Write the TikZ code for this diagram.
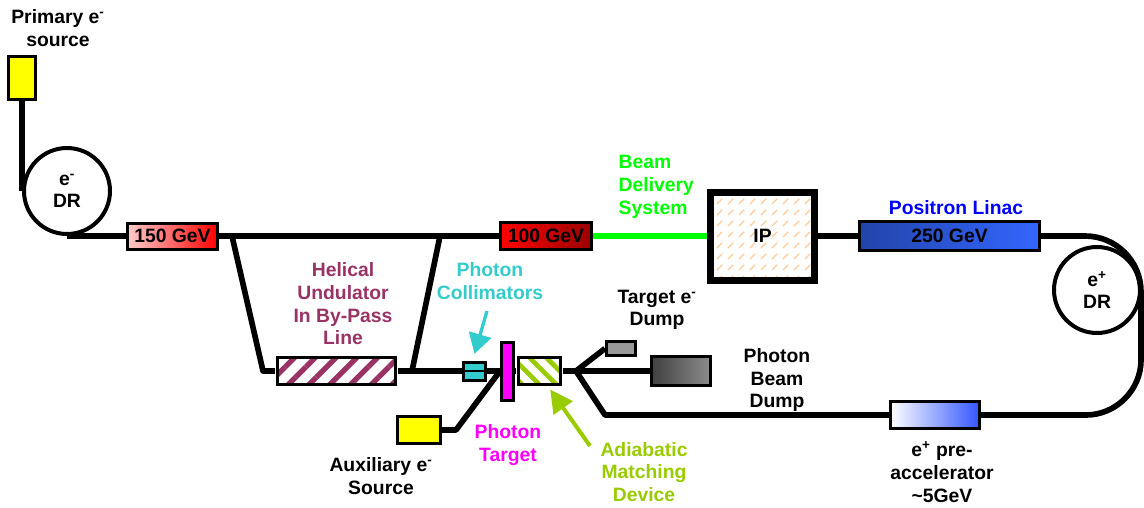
\documentclass[tikz,border=0pt]{standalone}
\usepackage{fontspec}
\setmainfont{Liberation Sans}
\usetikzlibrary{arrows.meta,patterns.meta}

\definecolor{srcyellow}{HTML}{FFFF00}
\definecolor{undpurple}{HTML}{993366}
\definecolor{colteal}{HTML}{33CCCC}
\definecolor{tgtmagenta}{HTML}{FF00FF}
\definecolor{amdgreen}{HTML}{99CC00}
\definecolor{bdsgreen}{HTML}{00FF00}
\definecolor{ippeach}{HTML}{FFCC99}
\definecolor{linacdark}{HTML}{2244AA}
\definecolor{linacblue}{HTML}{3366FF}
\definecolor{preblue}{HTML}{3355FF}

% short diagonal dashes for the IP box
\tikzdeclarepattern{
  name=ipdash,
  type=uncolored,
  bounding box={(0pt,0pt) and (8pt,8pt)},
  tile size={(8pt,8pt)},
  code={\draw[line width=0.9pt] (1.5pt,1.5pt) -- (5.5pt,5.5pt);}
}

\begin{document}
\begin{tikzpicture}[x=0.75pt, y=-0.75pt,
    every node/.style={font=\bfseries\fontsize{14.5}{17}\selectfont},
    beam/.style={line width=4.25pt},
    part/.style={draw, line width=2.25pt, inner sep=0pt},
    dring/.style={draw, circle, line width=3pt, fill=white, minimum size=64.5pt, inner sep=0pt, align=center},
    lbl/.style={align=center}]

        \useasboundingbox (0,0) rectangle (1144,507);

        % --- Electron side ---
        \node[part, fill=srcyellow, minimum width=20.25pt, minimum height=32.25pt] (psrc) at (22,78) {};
        \node[lbl] (psrclbl) at (58,28) {Primary e\textsuperscript{-}\\source};
        \node[dring] (edr) at (67,191) {e\textsuperscript{-}\\DR};
        \node[part, left color=red!20, right color=red, minimum width=67.5pt, minimum height=19.5pt] (lin150) at (172.5,236) {150 GeV};
        \node[part, left color=red, right color=red!60!black, minimum width=68.25pt, minimum height=20.25pt] (lin100) at (546,236) {100 GeV};

        % --- Interaction point and positron linac ---
        \node[part, line width=5.25pt, pattern=ipdash, pattern color=ippeach, minimum width=78pt, minimum height=66pt] (ip) at (762.5,236) {IP};
        \node[lbl, anchor=west, align=left, text=bdsgreen] (bdslbl) at (614,187) {Beam\\Delivery\\System};
        \node[part, left color=linacdark, right color=linacblue, minimum width=135pt, minimum height=21.75pt] (linac) at (949.5,236) {250 GeV};
        \node[lbl, text=blue] (linaclbl) at (956,208) {Positron Linac};
        \node[dring] (epdr) at (1097,290) {e\textsuperscript{+}\\DR};
        \node[part, left color=white, right color=preblue, minimum width=66.75pt, minimum height=20.25pt] (pre) at (935,415) {};
        \node[lbl] (prelbl) at (942,472) {e\textsuperscript{+} pre-\\accelerator\\\textasciitilde5GeV};

        % --- Undulator, collimators and target ---
        \node[part, pattern={Lines[angle=45,distance=11pt,line width=4pt]}, pattern color=undpurple, minimum width=88.5pt, minimum height=20.25pt] (und) at (336.5,371) {};
        \node[lbl, text=undpurple] (undlbl) at (343,304) {Helical\\Undulator\\In By-Pass\\Line};
        \node[part, fill=colteal, minimum width=16.5pt, minimum height=13.5pt,
              path picture={\draw[line width=2pt] (path picture bounding box.west) -- (path picture bounding box.east);}] (coll) at (474.5,371) {};
        \node[lbl, text=colteal] (colllbl) at (490,281) {Photon\\Collimators};
        \node[part, fill=tgtmagenta, minimum width=9pt, minimum height=43.5pt] (tgt) at (507.5,371) {};
        \node[lbl, text=tgtmagenta] (tgtlbl) at (508,445) {Photon\\Target};
        \node[part, pattern={Lines[angle=-45,distance=9pt,line width=3.5pt]}, pattern color=amdgreen, minimum width=31.5pt, minimum height=20.25pt] (amd) at (539.5,371) {};
        \node[lbl, text=amdgreen] (amdlbl) at (644,472) {Adiabatic\\Matching\\Device};
        \node[part, fill=srcyellow, minimum width=32.25pt, minimum height=20.25pt] (aux) at (419,430) {};
        \node[lbl] (auxlbl) at (381,476) {Auxiliary e\textsuperscript{-}\\Source};

        % --- Dumps ---
        \node[part, fill=black!40, minimum width=21.75pt, minimum height=10.5pt] (tdump) at (621,348.5) {};
        \node[lbl] (tdumplbl) at (657,310) {Target e\textsuperscript{-}\\Dump};
        \node[part, left color=black!75, right color=black!45, minimum width=44.25pt, minimum height=21.75pt] (pdump) at (681,371) {};
        \node[lbl] (pdumplbl) at (777,380) {Photon\\Beam\\Dump};

        % --- Bends of the beam lines ---
        \coordinate (bpin) at (232,236);
        \coordinate (bpdown) at (263,371);
        \coordinate (bpup) at (412,371);
        \coordinate (bpout) at (440,236);
        \coordinate (auxbend) at (456,430);
        \coordinate (split) at (576,371);
        \coordinate (lowbend) at (605,415);
        \coordinate (loopa) at (1085,236);
        \coordinate (loopb) at (1141,292);
        \coordinate (loopc) at (1141,360);
        \coordinate (loopd) at (1086,415);
        \coordinate (collarr) at (487,311);
        \coordinate (amdarr) at (590,446);

        % --- Beam lines ---
        \draw[beam] (psrc.south) -- (edr.west);
        \draw[beam] (edr.south) -- (lin150.west);
        \draw[beam] (lin150.east) -- (lin100.west);
        \draw[beam, bdsgreen] (lin100.east) -- (ip.west);
        \draw[beam] (ip.east) -- (linac.west);
        \draw[beam] (linac.east) -- (loopa) .. controls (1116,236) and (1141,261) .. (loopb)
            -- (loopc) .. controls (1141,390) and (1116,415) .. (loopd) -- (pre.east);
        \draw[beam, line join=round] (pre.west) -- (lowbend) -- (split);
        \draw[beam, line join=round] (bpin) -- (bpdown) -- (und.west);
        \draw[beam] (und.east) -- (coll.west);
        \draw[beam] (bpup) -- (bpout);
        \draw[beam] (coll.east) -- (tgt.west);
        \draw[beam, line join=round] (aux.east) -- (auxbend) -- (tgt.west);
        \draw[beam] (tgt.east) -- (amd.west);
        \draw[beam] (amd.east) -- (split) -- (pdump.west);
        \draw[beam] (split) -- (tdump.west);

        % --- Pointers ---
        \draw[colteal, line width=2.5pt, -{Triangle[length=15pt,width=17pt]}] (collarr) -- ([yshift=5pt]coll.north);
        \draw[amdgreen, line width=3pt, -{Triangle[length=17pt,width=17pt]}] (amdarr) -- ([xshift=8pt,yshift=-2pt]amd.south);

\end{tikzpicture}
\end{document}
